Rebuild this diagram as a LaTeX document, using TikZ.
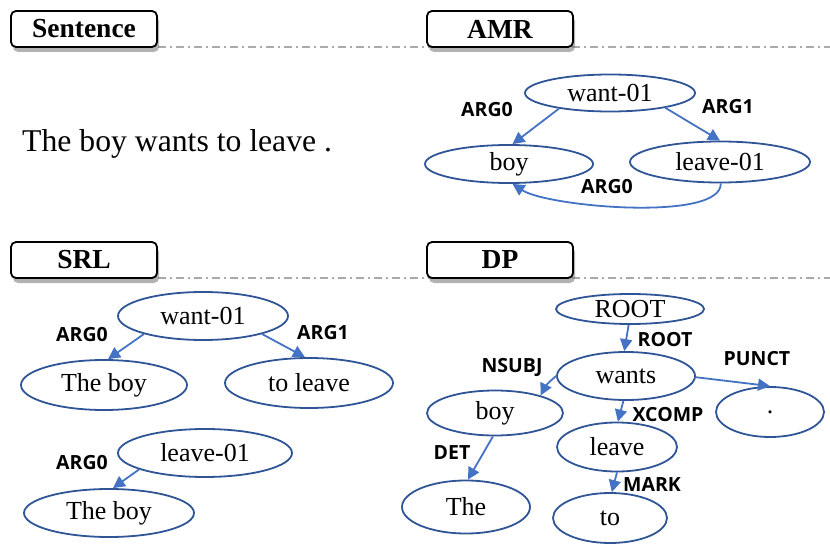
\documentclass[tikz,border=0pt]{standalone}
\usepackage{fontspec}
\setmainfont{Liberation Serif}
\newfontfamily\labfont{Open Sans}
\usetikzlibrary{arrows.meta,shapes.geometric,shadows}
\definecolor{ellblue}{HTML}{2F5597}
\definecolor{arrblue}{HTML}{4472C4}
\definecolor{sepgray}{HTML}{AAAAAA}
\begin{document}
\begin{tikzpicture}[x=1pt,y=-1pt,
  hdr/.style={draw=black,line width=1.8pt,rounded corners=5pt,fill=white,
    minimum width=146pt,minimum height=36pt,inner sep=0pt,
    font=\fontsize{27.5}{30}\selectfont\bfseries,
    drop shadow={shadow xshift=2pt,shadow yshift=-5pt,opacity=0.55,fill=black!55}},
  sep/.style={draw=sepgray,line width=1.3pt,dash pattern=on 8pt off 4pt on 2pt off 4pt},
  ell/.style={ellipse,draw=ellblue,line width=1.8pt,inner sep=0pt,
    font=\fontsize{26}{28}\selectfont},
  lab/.style={font=\labfont\bfseries\fontsize{19.5}{21}\selectfont,inner sep=0pt},
  arr/.style={draw=arrblue,line width=1.8pt,-{Triangle[length=12pt,width=12pt]}}
]
\useasboundingbox (0,0) rectangle (830,548);
% separators
\coordinate (s1a) at (158,47); \coordinate (s1b) at (830,47);
\coordinate (s2a) at (158,278); \coordinate (s2b) at (830,278);
\draw[sep] (s1a) -- (s1b);
\draw[sep] (s2a) -- (s2b);
% headers
\node[hdr] (hsent) at (84,29) {Sentence};
\node[hdr] (hamr) at (500,29) {AMR};
\node[hdr] (hsrl) at (84,260) {SRL};
\node[hdr] (hdp) at (500,260) {DP};
% sentence
\node[anchor=base west,inner sep=0pt,font=\fontsize{31.7}{34}\selectfont] (sent) at (22,152) {The boy wants to leave .};
% AMR
\node[ell,minimum width=170pt,minimum height=37pt] (awant) at (610,93) {want-01};
\node[ell,minimum width=168pt,minimum height=38pt] (aboy) at (509,164) {boy};
\node[ell,minimum width=180pt,minimum height=41pt] (aleave) at (720,162) {leave-01};
\draw[arr] (awant.-163) -- (aboy.80);
\draw[arr] (awant.-15) -- (aleave.90);
\draw[arr] (aleave.-88) .. controls (722,222) and (548,207) .. (aboy.-80);
\node[lab] (al1) at (487,110) {ARG0};
\node[lab] (al2) at (728,107) {ARG1};
\node[lab] (al3) at (607,187) {ARG0};
% SRL
\node[ell,minimum width=170pt,minimum height=48pt] (swant) at (203,316) {want-01};
\node[ell,minimum width=166pt,minimum height=50pt] (sboy1) at (104,385) {The boy};
\node[ell,minimum width=168pt,minimum height=50pt] (stoleave) at (309,383) {to leave};
\node[ell,minimum width=174pt,minimum height=48pt] (sleave) at (205,453) {leave-01};
\node[ell,minimum width=170pt,minimum height=48pt] (sboy2) at (109,513) {The boy};
\draw[arr] (swant.-163) -- (sboy1.81);
\draw[arr] (swant.-17) -- (stoleave.99);
\draw[arr] (sleave.-166) -- (sboy2.81);
\node[lab] (sl1) at (82,335) {ARG0};
\node[lab] (sl2) at (323,333) {ARG1};
\node[lab] (sl3) at (82,463) {ARG0};
% DP
\node[ell,minimum width=148pt,minimum height=30pt] (droot) at (630,309) {ROOT};
\node[ell,minimum width=138pt,minimum height=48pt] (dwants) at (626,376) {wants};
\node[ell,minimum width=136pt,minimum height=45pt] (dboy) at (495,413) {boy};
\node[ell,minimum width=108pt,minimum height=50pt] (ddot) at (770,412) {.};
\node[ell,minimum width=120pt,minimum height=49pt] (dleave) at (617,447) {leave};
\node[ell,minimum width=128pt,minimum height=53pt] (dthe) at (466,507) {The};
\node[ell,minimum width=114pt,minimum height=50pt] (dto) at (610,518) {to};
\draw[arr] (droot.-95) -- (dwants.94);
\draw[arr] (dwants.180) to[bend right=12] (dboy.21);
\draw[arr] (dwants.-1) -- (ddot.90);
\draw[arr] (dwants.-96) -- (dleave.88);
\draw[arr] (dboy.-95) -- (dthe.86);
\draw[arr] (dleave.-90) -- (dto.86);
\node[lab] (dl1) at (665,340) {ROOT};
\node[lab] (dl2) at (512,367) {NSUBJ};
\node[lab] (dl3) at (757,359) {PUNCT};
\node[lab] (dl4) at (668,415) {XCOMP};
\node[lab] (dl5) at (452,453) {DET};
\node[lab] (dl6) at (652,485) {MARK};
\end{tikzpicture}
\end{document}
